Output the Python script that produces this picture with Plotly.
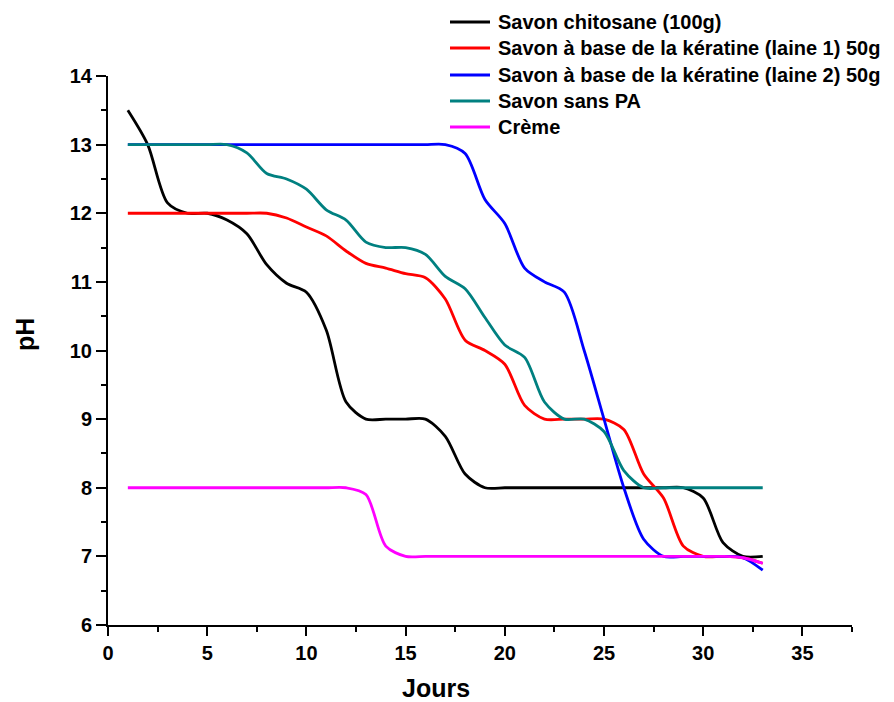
import plotly.graph_objects as go

# Daily pH values (Jours 1..33)
days = list(range(1, 34))

chito_y = [13.5, 13.0, 12.15, 12.0, 12.0, 11.9, 11.7, 11.25, 10.98, 10.85, 10.3,
           9.25, 9.0, 9.0, 9.0, 9.0, 8.75, 8.2, 8.0, 8.0, 8.0, 8.0, 8.0, 8.0,
           8.0, 8.0, 8.0, 8.0, 8.0, 7.85, 7.2, 7.0, 7.0]

laine1_y = [12, 12, 12, 12, 12, 12, 12, 12, 11.93, 11.8, 11.67, 11.45, 11.27,
            11.2, 11.12, 11.06, 10.75, 10.15, 10.0, 9.8, 9.2, 9.0, 9.0, 9.0,
            9.0, 8.85, 8.2, 7.85, 7.15, 7.0, 7.0, 6.98, 6.9]

laine2_y = [13, 13, 13, 13, 13, 13, 13, 13, 13, 13, 13, 13, 13, 13, 13, 13, 13,
            12.87, 12.2, 11.85, 11.2, 11.0, 10.85, 10.0, 9.0, 8.0, 7.25, 7.0,
            7.0, 7.0, 7.0, 6.98, 6.8]

sanspa_y = [13, 13, 13, 13, 13, 13, 12.88, 12.58, 12.5, 12.35, 12.05, 11.9,
            11.58, 11.5, 11.5, 11.4, 11.08, 10.9, 10.48, 10.08, 9.9, 9.25, 9.0,
            9.0, 8.82, 8.25, 8.0, 8.0, 8.0, 8.0, 8.0, 8.0, 8.0]

creme_y = [8, 8, 8, 8, 8, 8, 8, 8, 8, 8, 8, 8, 7.9, 7.15, 7.0, 7.0, 7.0, 7.0,
           7.0, 7.0, 7.0, 7.0, 7.0, 7.0, 7.0, 7.0, 7.0, 7.0, 7.0, 7.0, 7.0,
           6.98, 6.9]

series = [
    ("Savon chitosane (100g)", chito_y, "#000000"),
    ("Savon à base de la kératine (laine 1) 50g", laine1_y, "#ff0000"),
    ("Savon à base de la kératine (laine 2) 50g", laine2_y, "#0000ff"),
    ("Savon sans PA", sanspa_y, "#008080"),
    ("Crème", creme_y, "#ff00ff"),
]

x_ticks = [0, 5, 10, 15, 20, 25, 30, 35]
y_ticks = [6, 7, 8, 9, 10, 11, 12, 13, 14]

# Page pixel geometry (the page body has an 8px margin)
PL, PR, PT, PB = 108, 852, 76, 625
W, H = PR - PL, PB - PT


def px_x(px):
    return (px - PL) / W


def px_y(py):
    return (PB - py) / H


font_family = "Liberation Sans, Arial, sans-serif"

fig = go.Figure()
for name, ys, col in series:
    fig.add_trace(go.Scatter(
        x=days, y=ys, name=name, mode="lines", showlegend=False,
        line=dict(color=col, width=2.8, shape="spline", smoothing=0.8),
    ))

# Legend drawn as line segments + text (compact row spacing like the original)
legend_rows = [22, 48, 75, 101, 127]
shapes = []
annotations = []
for (name, _, col), ry in zip(series, legend_rows):
    shapes.append(dict(type="line", xref="paper", yref="paper",
                       x0=px_x(450), x1=px_x(490), y0=px_y(ry), y1=px_y(ry),
                       line=dict(color=col, width=3)))
    annotations.append(dict(text=name, xref="paper", yref="paper",
                            x=px_x(496), y=px_y(ry), xanchor="left", yanchor="middle",
                            showarrow=False,
                            font=dict(size=20, family=font_family, color="black", weight="bold")))

annotations += [
    dict(text="Jours", xref="paper", yref="paper", x=px_x(436), y=px_y(688),
         xanchor="center", yanchor="middle", showarrow=False,
         font=dict(size=25, family=font_family, color="black", weight="bold")),
    dict(text="pH", xref="paper", yref="paper", x=px_x(25), y=px_y(335),
         xanchor="center", yanchor="middle", showarrow=False, textangle=-90,
         font=dict(size=25, family=font_family, color="black", weight="bold")),
]

fig.update_layout(
    width=886, height=694,
    margin=dict(l=PL - 8, r=894 - PR, t=PT - 8, b=702 - PB, autoexpand=False),
    paper_bgcolor="white", plot_bgcolor="white",
    font=dict(family=font_family, color="black"),
    showlegend=False,
    shapes=shapes,
    annotations=annotations,
    xaxis=dict(
        range=[0, 37.5], showgrid=False, zeroline=False,
        showline=True, linecolor="black", linewidth=2,
        ticks="outside", ticklen=9, tickwidth=2, tickcolor="black",
        tickvals=x_ticks,
        tickfont=dict(size=20, family=font_family, color="black", weight="bold"),
        minor=dict(dtick=2.5, tick0=0, ticks="outside", ticklen=5, tickwidth=2, tickcolor="black"),
    ),
    yaxis=dict(
        range=[6, 14], showgrid=False, zeroline=False,
        showline=True, linecolor="black", linewidth=2,
        ticks="outside", ticklen=10, tickwidth=2, tickcolor="black",
        tickvals=y_ticks,
        tickfont=dict(size=20, family=font_family, color="black", weight="bold"),
        minor=dict(dtick=0.5, tick0=6, ticks="outside", ticklen=5, tickwidth=2, tickcolor="black"),
    ),
)

fig.write_html("out.html")
